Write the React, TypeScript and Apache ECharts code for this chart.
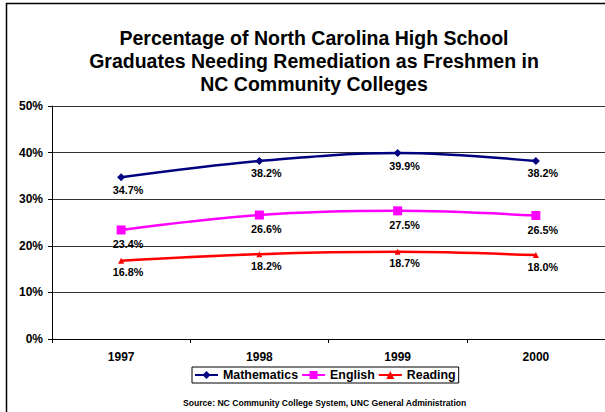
import React, { useEffect, useRef } from "react";
import * as echarts from "echarts";

const categories = ["1997", "1998", "1999", "2000"];
const mathematics = [34.7, 38.2, 39.9, 38.2];
const english = [23.4, 26.6, 27.5, 26.5];
const reading = [16.8, 18.2, 18.7, 18.0];
const titleText =
  "Percentage of North Carolina High School\nGraduates Needing Remediation as Freshmen in\nNC Community Colleges";
const sourceText = "Source: NC Community College System, UNC General Administration";

const FONT = '"Liberation Sans", Arial, sans-serif';

export default function App() {
  const ref = useRef<HTMLDivElement>(null);
  useEffect(() => {
    if (!ref.current) return;
    const chart = echarts.init(ref.current, undefined, { renderer: "svg" });
    const labelCfg = (distance: number) => ({
      show: true,
      position: "bottom",
      distance,
      offset: [7, 0],
      formatter: (p: any) => `${Number(p.value).toFixed(1)}%`,
      fontFamily: FONT,
      fontSize: 10.8,
      fontWeight: "bold",
      color: "#000",
    });
    chart.setOption({
      animation: false,
      backgroundColor: "#fff",
      textStyle: { fontFamily: FONT },
      title: {
        text: titleText,
        left: 309,
        top: 21,
        textAlign: "center",
        textStyle: {
          fontFamily: FONT,
          fontSize: 19.5,
          fontWeight: "bold",
          color: "#000",
          lineHeight: 23,
        },
      },
      legend: {
        left: 192,
        top: 367,
        padding: [2, 3, 2, 2],
        borderColor: "#000",
        borderWidth: 1,
        itemWidth: 23,
        itemHeight: 10,
        itemGap: 3,
        textStyle: {
          fontFamily: FONT,
          fontSize: 12.4,
          fontWeight: "bold",
          color: "#000",
        },
        data: ["Mathematics", "English", "Reading"],
      },
      grid: { left: 52, top: 106, width: 557, height: 233, containLabel: false },
      xAxis: {
        type: "category",
        data: categories,
        boundaryGap: true,
        axisLine: { lineStyle: { color: "#000", width: 1 } },
        axisTick: { show: true, length: 4, lineStyle: { color: "#000" } },
        axisLabel: {
          margin: 12,
          fontFamily: FONT,
          fontSize: 12,
          fontWeight: "bold",
          color: "#000",
        },
      },
      yAxis: {
        type: "value",
        min: 0,
        max: 50,
        interval: 10,
        axisLine: { show: true, lineStyle: { color: "#000", width: 1 } },
        axisTick: { show: true, length: 4, lineStyle: { color: "#000" } },
        splitLine: { show: true, lineStyle: { color: "#333", width: 1 } },
        axisLabel: {
          margin: 9,
          formatter: "{value}%",
          fontFamily: FONT,
          fontSize: 12,
          fontWeight: "bold",
          color: "#000",
        },
      },
      series: [
        {
          name: "Mathematics",
          type: "line",
          data: mathematics,
          smooth: 0.35,
          symbol: "diamond",
          symbolSize: 8,
          lineStyle: { color: "#000080", width: 2.5 },
          itemStyle: { color: "#000080" },
          label: labelCfg(3),
        },
        {
          name: "English",
          type: "line",
          data: english,
          smooth: 0.35,
          symbol: "rect",
          symbolSize: 9,
          lineStyle: { color: "#FF00FF", width: 2.5 },
          itemStyle: { color: "#FF00FF" },
          label: labelCfg(4),
        },
        {
          name: "Reading",
          type: "line",
          data: reading,
          smooth: 0.35,
          symbol: "triangle",
          symbolSize: 6,
          lineStyle: { color: "#FF0000", width: 2.5 },
          itemStyle: { color: "#FF0000" },
          label: labelCfg(3),
        },
      ],
      graphic: [
        {
          type: "rect",
          shape: { x: 6.5, y: 3.5, width: 700, height: 500 },
          style: { fill: "none", stroke: "#000", lineWidth: 1.5 },
          silent: true,
        },
        {
          type: "text",
          x: 183,
          y: 403,
          style: {
            text: sourceText,
            fontFamily: FONT,
            fontSize: 8.6,
            fontWeight: "bold",
            fill: "#000",
            verticalAlign: "middle",
          },
        },
      ],
    });
    return () => chart.dispose();
  }, []);
  return (
    <div
      ref={ref}
      style={{ position: "absolute", left: 0, top: 0, width: 605, height: 412 }}
    />
  );
}
